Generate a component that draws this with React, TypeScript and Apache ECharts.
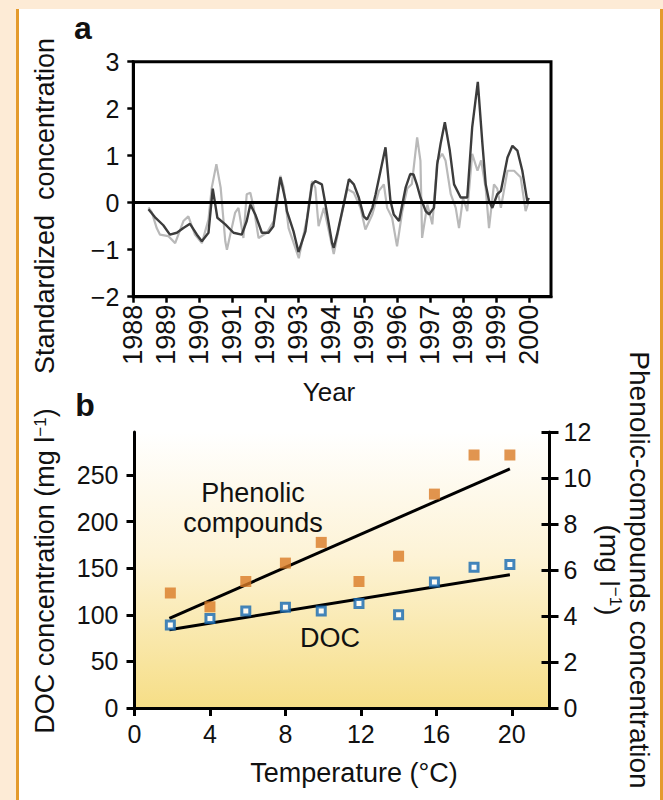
import React, { useEffect, useRef } from "react";
import * as echarts from "echarts";

// ---------- Panel a data ----------
const yearTicks = [1988, 1989, 1990, 1991, 1992, 1993, 1994, 1995, 1996, 1997, 1998, 1999, 2000];
const standardizedTicks = [-2, -1, 0, 1, 2, 3];

const darkYears = [
  1988.46, 1988.66, 1988.91, 1989.11, 1989.32, 1989.52, 1989.72, 1989.93, 1990.08, 1990.28,
  1990.41, 1990.55, 1990.79, 1991.04, 1991.29, 1991.44, 1991.55, 1991.7, 1991.9, 1992.1,
  1992.25, 1992.46, 1992.61, 1992.66, 1992.86, 1993.01, 1993.22, 1993.42, 1993.52, 1993.72,
  1993.83, 1994.03, 1994.08, 1994.18, 1994.38, 1994.54, 1994.69, 1994.84, 1994.99, 1995.09,
  1995.25, 1995.35, 1995.5, 1995.65, 1995.8, 1995.9, 1996.06, 1996.26, 1996.4, 1996.5,
  1996.6, 1996.71, 1996.87, 1996.97, 1997.12, 1997.22, 1997.32, 1997.45, 1997.6, 1997.73,
  1997.93, 1998.13, 1998.28, 1998.45, 1998.59, 1998.69, 1998.79, 1998.89, 1999.04, 1999.15,
  1999.35, 1999.5, 1999.65, 1999.8, 1999.95, 2000.0,
];
const darkValues = [
  -0.14, -0.31, -0.48, -0.68, -0.64, -0.54, -0.45, -0.68, -0.82, -0.64,
  0.3, -0.32, -0.46, -0.64, -0.68, -0.39, -0.04, -0.25, -0.64, -0.64,
  -0.5, 0.54, 0.07, -0.18, -0.61, -1.05, -0.61, 0.39, 0.46, 0.39,
  -0.04, -0.86, -0.96, -0.68, -0.04, 0.5, 0.39, 0.11, -0.29, -0.36,
  -0.11, 0.18, 0.68, 1.18, 0.04, -0.25, -0.39, 0.32, 0.61, 0.6,
  0.39, 0.11, -0.18, -0.25, -0.11, 0.82, 1.25, 1.71, 1.11, 0.39,
  0.11, 0.11, 1.61, 2.57, 1.25, 0.39, 0.04, -0.11, 0.18, 0.25,
  0.96, 1.21, 1.11, 0.68, 0.04, 0.1,
];

const lightYears = [
  1988.46, 1988.56, 1988.71, 1988.81, 1989.06, 1989.27, 1989.52, 1989.67, 1989.87, 1990.08,
  1990.28, 1990.38, 1990.52, 1990.65, 1990.79, 1990.84, 1991.09, 1991.19, 1991.34, 1991.44,
  1991.55, 1991.65, 1991.8, 1992.05, 1992.26, 1992.31, 1992.46, 1992.56, 1992.71, 1993.02,
  1993.27, 1993.42, 1993.52, 1993.62, 1993.78, 1994.08, 1994.28, 1994.49, 1994.69, 1994.89,
  1995.04, 1995.25, 1995.45, 1995.6, 1995.7, 1995.85, 1996.0, 1996.16, 1996.31, 1996.45,
  1996.61, 1996.71, 1996.76, 1996.92, 1997.07, 1997.22, 1997.37, 1997.47, 1997.63, 1997.78,
  1997.88, 1998.0, 1998.13, 1998.28, 1998.44, 1998.55, 1998.69, 1998.79, 1998.94, 1999.04,
  1999.15, 1999.35, 1999.55, 1999.75, 1999.9, 2000.0,
];
const lightValues = [
  -0.1, -0.2, -0.54, -0.68, -0.71, -0.86, -0.39, -0.29, -0.68, -0.86,
  -0.36, 0.32, 0.82, 0.32, -0.82, -1.0, -0.21, -0.11, -0.75, 0.18,
  0.21, -0.1, -0.75, -0.64, -0.39, -0.11, 0.57, 0.32, -0.54, -1.18,
  -0.32, 0.46, 0.32, -0.5, -0.11, -1.09, -0.39, 0.29, 0.21, -0.11,
  -0.57, -0.25, 0.25, 0.39, -0.11, -0.32, -0.93, -0.18, 0.3, 0.4,
  1.39, 0.89, -0.75, -0.04, -0.46, 0.89, 1.04, 0.9, 0.18, -0.11,
  -0.54, 0.1, -0.18, 1.04, 0.68, 0.9, 0.3, -0.54, 0.39, 0.3,
  -0.11, 0.68, 0.68, 0.54, -0.18, 0.04,
];

// ---------- Panel b data ----------
const tempTicks = [0, 4, 8, 12, 16, 20];
const docTicks = [0, 50, 100, 150, 200, 250];
const phenolicTicks = [0, 2, 4, 6, 8, 10, 12];
const temperature = [1.9, 4.0, 5.9, 8.0, 9.9, 11.9, 14.0, 15.9, 18.0, 19.9];
const docValues = [89, 96, 104, 108, 104, 112, 100, 135, 151, 154];
const phenolicValues = [5.0, 4.4, 5.5, 6.3, 7.2, 5.5, 6.6, 9.3, 11.0, 11.0];
const fitTemps = [1.85, 19.9];
const docFitValues = [84, 143];
const phenolicFitValues = [3.9, 10.4];

const FONT = '"Liberation Sans", Arial, Helvetica, sans-serif';
const INK = "#111";

export default function App() {
  const ref = useRef<HTMLDivElement>(null);

  useEffect(() => {
    if (!ref.current) return;
    const chart = echarts.init(ref.current, undefined, { renderer: "svg" });

    const black = { color: "#000", width: 3 };
    const gradient = new echarts.graphic.LinearGradient(0, 0, 0, 1, [
      { offset: 0, color: "#FFFFFF" },
      { offset: 0.45, color: "#FDF3D6" },
      { offset: 1, color: "#F6DE86" },
    ]);

    const option: any = {
      animation: false,
      textStyle: { fontFamily: FONT },
      grid: [
        {
          left: 133.3, right: 112, top: 61.7, bottom: 503.3,
          show: true, borderColor: "#000", borderWidth: 3, backgroundColor: "transparent",
        },
        {
          left: 134.5, right: 113.5, top: 432, bottom: 92,
          show: true, borderWidth: 0, backgroundColor: gradient,
        },
      ],
      xAxis: [
        {
          gridIndex: 0, type: "value", min: 1988, max: 2000.67,
          axisLine: { show: true, onZero: false, lineStyle: black },
          axisTick: { show: true, customValues: yearTicks, length: 6, lineStyle: { color: "#000", width: 2.5 } },
          axisLabel: {
            customValues: yearTicks, rotate: 90, margin: 8, fontSize: 27, color: INK,
            fontFamily: FONT, padding: [0, 0, 15, 0], formatter: (v: number) => String(v),
          },
          splitLine: { show: false },
        },
        {
          gridIndex: 1, type: "value", min: 0, max: 22,
          axisLine: { show: true, onZero: false, lineStyle: black },
          axisTick: { show: true, customValues: tempTicks, length: 8, lineStyle: { color: "#000", width: 3 } },
          axisLabel: { customValues: tempTicks, margin: 13, fontSize: 25, color: INK, fontFamily: FONT },
          splitLine: { show: false },
        },
      ],
      yAxis: [
        {
          gridIndex: 0, type: "value", min: standardizedTicks[0], max: standardizedTicks[standardizedTicks.length - 1], interval: 1,
          axisLine: { show: true, lineStyle: black },
          axisTick: { show: true, length: 6, lineStyle: { color: "#000", width: 2.5 } },
          axisLabel: {
            margin: 14, fontSize: 25, color: INK, fontFamily: FONT,
            formatter: (v: number) => (v < 0 ? "\u2212" + Math.abs(v) : String(v)),
          },
          splitLine: { show: false },
        },
        {
          gridIndex: 1, type: "value", min: 0, max: 296, position: "left",
          axisLine: { show: true, lineStyle: black },
          axisTick: { show: true, customValues: docTicks, length: 8, lineStyle: { color: "#000", width: 3 } },
          axisLabel: { customValues: docTicks, margin: 16, fontSize: 25, color: INK, fontFamily: FONT },
          splitLine: { show: false },
        },
        {
          gridIndex: 1, type: "value", min: 0, max: 12, interval: 2, position: "right",
          axisLine: { show: true, lineStyle: black },
          axisTick: { show: true, customValues: phenolicTicks, length: 9, lineStyle: { color: "#000", width: 3 } },
          axisLabel: { customValues: phenolicTicks, margin: 14, fontSize: 25, color: INK, fontFamily: FONT },
          splitLine: { show: false },
        },
        {
          gridIndex: 1, type: "value", min: 0, max: 12, interval: 2, position: "right",
          axisLine: { show: false },
          axisTick: { show: true, inside: true, length: 8, lineStyle: { color: "#000", width: 3 } },
          axisLabel: { show: false },
          splitLine: { show: false },
        },
      ],
      series: [
        {
          name: "Standardized (light)", type: "line", xAxisIndex: 0, yAxisIndex: 0,
          data: lightYears.map((y, i) => [y, lightValues[i]]),
          showSymbol: false, lineStyle: { color: "#b9b9b9", width: 2.2 }, z: 2,
        },
        {
          name: "Standardized (dark)", type: "line", xAxisIndex: 0, yAxisIndex: 0,
          data: darkYears.map((y, i) => [y, darkValues[i]]),
          showSymbol: false, lineStyle: { color: "#3c3c3c", width: 2.4 }, z: 3,
          markLine: {
            silent: true, symbol: "none", label: { show: false },
            lineStyle: { color: "#000", width: 3, type: "solid" },
            data: [{ yAxis: 0 }],
          },
        },
        {
          name: "Phenolic fit", type: "line", xAxisIndex: 1, yAxisIndex: 2,
          data: fitTemps.map((t, i) => [t, phenolicFitValues[i]]),
          showSymbol: false, lineStyle: { color: "#000", width: 3 }, z: 2,
        },
        {
          name: "DOC fit", type: "line", xAxisIndex: 1, yAxisIndex: 1,
          data: fitTemps.map((t, i) => [t, docFitValues[i]]),
          showSymbol: false, lineStyle: { color: "#000", width: 3 }, z: 2,
        },
        {
          name: "Phenolic compounds", type: "scatter", xAxisIndex: 1, yAxisIndex: 2,
          data: temperature.map((t, i) => [t, phenolicValues[i]]),
          symbol: "rect", symbolSize: 11, itemStyle: { color: "#D97A26" }, z: 4,
        },
        {
          name: "DOC", type: "scatter", xAxisIndex: 1, yAxisIndex: 1,
          data: temperature.map((t, i) => [t, docValues[i]]),
          symbol: "rect", symbolSize: 8,
          itemStyle: { color: "#FFFFFF", borderColor: "#1468B0", borderWidth: 3 }, z: 4,
        },
      ],
      graphic: [
        { type: "text", x: 83, y: 28, style: { text: "a", font: `bold 32px ${FONT}`, fill: INK, align: "center", verticalAlign: "middle" } },
        { type: "text", x: 85, y: 405, style: { text: "b", font: `bold 32px ${FONT}`, fill: INK, align: "center", verticalAlign: "middle" } },
        {
          type: "text", x: 45, y: 206, rotation: Math.PI / 2,
          style: { text: "Standardized  concentration", font: `27px ${FONT}`, fill: INK, align: "center", verticalAlign: "middle" },
        },
        { type: "text", x: 329, y: 392, style: { text: "Year", font: `26px ${FONT}`, fill: INK, align: "center", verticalAlign: "middle" } },
        { type: "text", x: 354, y: 773, style: { text: "Temperature (°C)", font: `27px ${FONT}`, fill: INK, align: "center", verticalAlign: "middle" } },
        {
          type: "text", x: 45, y: 571, rotation: Math.PI / 2,
          style: {
            text: "DOC concentration (mg l{sup|\u22121})",
            fontSize: 27, fontFamily: FONT, fill: INK, align: "center", verticalAlign: "middle",
            rich: { sup: { fontSize: 17, fontFamily: FONT, fill: INK, verticalAlign: "top" } },
          },
        },
        {
          type: "text", x: 624, y: 570, rotation: -Math.PI / 2,
          style: {
            text: "Phenolic-compounds concentration\n(mg l{sup|\u22121})",
            fontSize: 28, fontFamily: FONT, fill: INK, align: "center", verticalAlign: "middle", lineHeight: 30,
            rich: { sup: { fontSize: 17, fontFamily: FONT, fill: INK, verticalAlign: "top", lineHeight: 30 } },
          },
        },
        {
          type: "text", x: 253, y: 508,
          style: { text: "Phenolic\ncompounds", font: `27px ${FONT}`, fill: INK, align: "center", verticalAlign: "middle", lineHeight: 30 },
        },
        { type: "text", x: 330, y: 638, style: { text: "DOC", font: `27px ${FONT}`, fill: INK, align: "center", verticalAlign: "middle" } },
      ],
    };

    chart.setOption(option);
    return () => chart.dispose();
  }, []);

  return (
    <div style={{ position: "fixed", left: 0, top: 0, width: 663, height: 800, background: "#FDEBD6", overflow: "hidden" }}>
      <div
        style={{
          position: "absolute", left: 16, top: 9, width: 647, height: 791, background: "#FFFFFF",
          borderLeft: "3px solid #E49A2C", borderRight: "3px solid #E49A2C", boxSizing: "border-box",
        }}
      />
      <div ref={ref} style={{ position: "absolute", left: 0, top: 0, width: 663, height: 800 }} />
    </div>
  );
}
